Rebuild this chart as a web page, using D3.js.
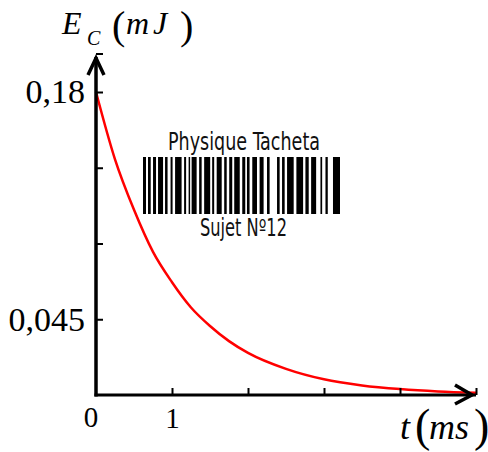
<!DOCTYPE html>
<html>
<head>
<meta charset="utf-8">
<script src="https://cdn.jsdelivr.net/npm/d3@7"></script>
<style>
  html, body { margin: 0; padding: 0; background: #fff; }
  svg { display: block; }
</style>
</head>
<body>
<div id="chart"></div>
<script>
// curve values (t in ms, Ec in mJ)
const times = [0, 0.25, 0.5, 0.75, 1, 1.25, 1.5, 1.75, 2, 2.5, 3, 3.5, 4, 4.5, 5];
const energies = [0.18, 0.14, 0.11, 0.085, 0.067, 0.052, 0.041, 0.032, 0.025, 0.0155, 0.0093, 0.0057, 0.0035, 0.0021, 0.0013];

const xTicks = [1, 2, 3, 4, 5];
const xTickLabels = ["1", "", "", "", ""];
const yTicks = [0.045, 0.09, 0.135, 0.18];
const yTickLabels = ["0,045", "", "", "0,18"];

// watermark barcode: bar start and width, in modules
const barStarts = [0, 5, 10, 15, 22, 27.5, 32, 41, 45.5, 48.5, 56, 61, 69, 73.5, 81, 86, 91, 99, 103.7, 109, 116.3, 123.7, 133.7, 138.7, 143.7, 153, 162, 167.7, 177, 182, 189.5];
const barWidths = [3, 2.7, 3, 5, 2.5, 2, 6.5, 2, 1.5, 5, 2.5, 6, 2, 5, 2.5, 3, 5.5, 3, 2.6, 4.7, 4, 2.6, 2.6, 2.6, 6.6, 6.7, 3.3, 5, 1.7, 2.3, 7];

function init() {
    const width = 488;
    const height = 452;

    const svg = d3.select("#chart")
        .append("svg")
        .attr("width", width)
        .attr("height", height);

    const x = d3.scaleLinear().domain([0, 5]).range([96, 476]);
    const y = d3.scaleLinear().domain([0, 0.18]).range([395, 92]);
    const yTop = 54;

    const serif = "'Liberation Serif', 'Times New Roman', serif";
    const narrow = "'DejaVu Sans Condensed', 'Liberation Sans Narrow', Roboto, sans-serif";

    // watermark
    const bx = d3.scaleLinear().domain([0, 196.5]).range([143, 340]);
    svg.append("g")
        .selectAll("rect")
        .data(barStarts)
        .enter()
        .append("rect")
        .attr("x", d => bx(d))
        .attr("y", 157)
        .attr("width", (d, i) => bx(d + barWidths[i]) - bx(d))
        .attr("height", 57)
        .attr("fill", "#000");

    svg.append("text")
        .attr("x", 168).attr("y", 150)
        .attr("font-family", narrow)
        .attr("font-size", 24)
        .attr("textLength", 152)
        .attr("lengthAdjust", "spacingAndGlyphs")
        .attr("fill", "#111")
        .text("Physique Tacheta");

    svg.append("text")
        .attr("x", 200).attr("y", 236)
        .attr("font-family", narrow)
        .attr("font-size", 24)
        .attr("textLength", 87)
        .attr("lengthAdjust", "spacingAndGlyphs")
        .attr("fill", "#111")
        .text("Sujet Nº12");

    // curve
    const line = d3.line()
        .x((d, i) => x(times[i]))
        .y(d => y(d))
        .curve(d3.curveMonotoneX);

    svg.append("path")
        .datum(energies)
        .attr("d", line)
        .attr("fill", "none")
        .attr("stroke", "#ff0000")
        .attr("stroke-width", 2.5);

    // y axis ticks and labels
    const yAxis = d3.axisLeft(y)
        .tickValues(yTicks)
        .tickSize(-7)
        .tickPadding(11)
        .tickFormat((d, i) => yTickLabels[i]);

    const gy = svg.append("g")
        .attr("transform", `translate(${x(0)},0)`)
        .call(yAxis);
    gy.select(".domain").remove();
    gy.selectAll("line").attr("stroke", "#000").attr("stroke-width", 2);
    gy.selectAll("text")
        .attr("font-family", serif)
        .attr("font-size", 34)
        .attr("fill", "#000");

    // x axis ticks and labels
    const xAxis = d3.axisBottom(x)
        .tickValues(xTicks)
        .tickSize(-7)
        .tickPadding(12)
        .tickFormat((d, i) => xTickLabels[i]);

    const gx = svg.append("g")
        .attr("transform", `translate(0,${y(0)})`)
        .call(xAxis);
    gx.select(".domain").remove();
    gx.selectAll("line").attr("stroke", "#000").attr("stroke-width", 2);
    gx.selectAll("text")
        .attr("font-family", serif)
        .attr("font-size", 29)
        .attr("fill", "#000");

    svg.append("text")
        .attr("x", x(0) - 5).attr("y", 427)
        .attr("text-anchor", "middle")
        .attr("font-family", serif)
        .attr("font-size", 29)
        .text("0");

    // top end tick of the y axis
    svg.append("line")
        .attr("x1", x(0)).attr("x2", x(0) + 7)
        .attr("y1", yTop).attr("y2", yTop)
        .attr("stroke", "#000").attr("stroke-width", 2);

    // axis lines
    svg.append("line")
        .attr("x1", x(0)).attr("x2", x(0))
        .attr("y1", yTop + 3).attr("y2", y(0) + 1.5)
        .attr("stroke", "#000").attr("stroke-width", 3.5);
    svg.append("line")
        .attr("x1", x(0) - 1.5).attr("x2", x(5))
        .attr("y1", y(0)).attr("y2", y(0))
        .attr("stroke", "#000").attr("stroke-width", 3);

    // arrows
    svg.append("path")
        .attr("d", `M${x(0) - 8},${yTop + 21} L${x(0)},${yTop + 4} L${x(0) + 8},${yTop + 21}`)
        .attr("fill", "none").attr("stroke", "#000")
        .attr("stroke-width", 3.5).attr("stroke-linejoin", "miter");
    svg.append("path")
        .attr("d", `M${x(5) - 21},${y(0) - 10} L${x(5) - 4},${y(0)} L${x(5) - 21},${y(0) + 9}`)
        .attr("fill", "none").attr("stroke", "#000")
        .attr("stroke-width", 3.5).attr("stroke-linejoin", "miter");

    // axis titles
    const yTitle = svg.append("g").attr("font-family", serif).attr("fill", "#000");
    yTitle.append("text").attr("x", 62).attr("y", 34)
        .attr("font-size", 32).attr("font-style", "italic").text("E");
    yTitle.append("text").attr("x", 87).attr("y", 45)
        .attr("font-size", 20).attr("font-style", "italic").text("C");
    yTitle.append("text").attr("x", 112).attr("y", 39)
        .attr("font-size", 40).text("(");
    yTitle.append("text").attr("x", 126).attr("y", 34)
        .attr("font-size", 32).attr("font-style", "italic").text("m");
    yTitle.append("text").attr("x", 153).attr("y", 34)
        .attr("font-size", 32).attr("font-style", "italic").text("J");
    yTitle.append("text").attr("x", 180).attr("y", 39)
        .attr("font-size", 40).text(")");

    const xTitle = svg.append("g").attr("font-family", serif).attr("fill", "#000");
    xTitle.append("text").attr("x", 400).attr("y", 439)
        .attr("font-size", 36).attr("font-style", "italic").text("t");
    xTitle.append("text").attr("x", 415).attr("y", 441)
        .attr("font-size", 46).text("(");
    xTitle.append("text").attr("x", 429).attr("y", 439)
        .attr("font-size", 36).attr("font-style", "italic").text("ms");
    xTitle.append("text").attr("x", 474).attr("y", 441)
        .attr("font-size", 46).text(")");
}

window.onload = init;
</script>
</body>
</html>
